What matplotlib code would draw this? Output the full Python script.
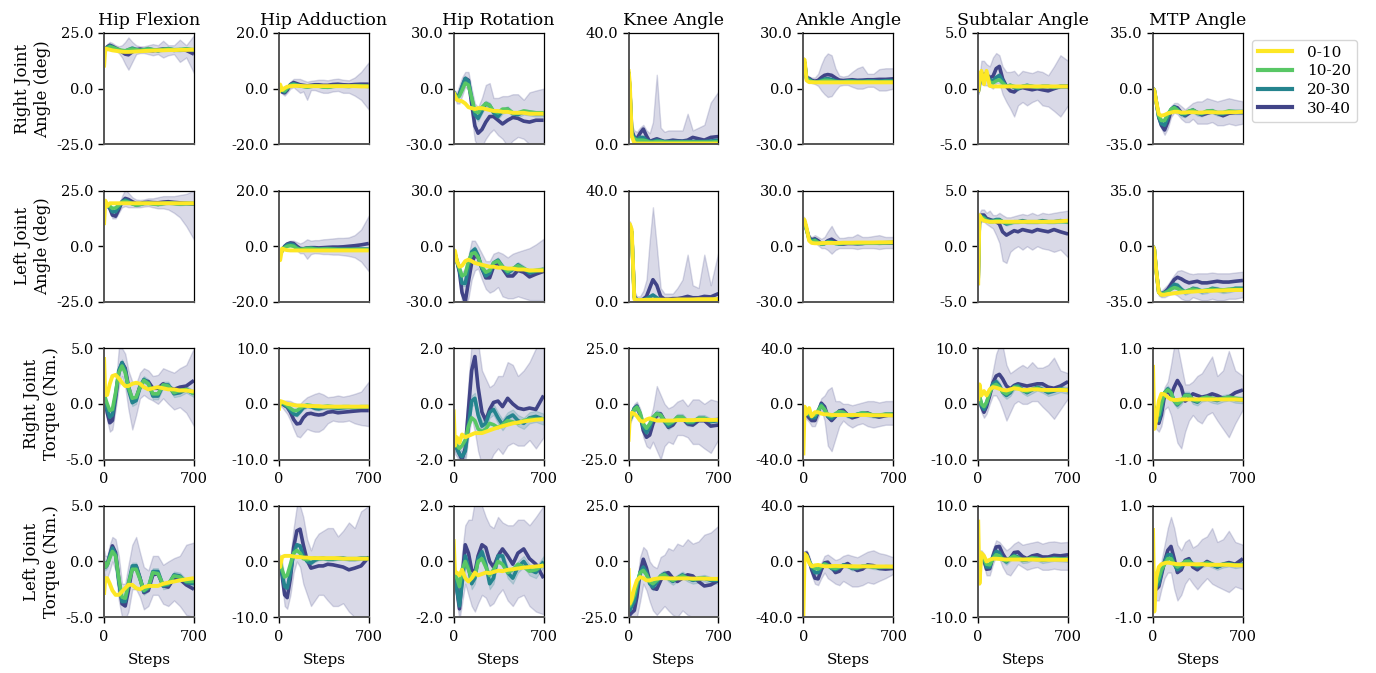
import matplotlib
matplotlib.use("Agg")
import matplotlib.pyplot as plt
from matplotlib.lines import Line2D

# ---------------- data ----------------
steps = [0, 10, 25, 45, 65, 90, 115, 140, 165, 190, 220, 250, 280, 310, 345, 380, 420, 460, 500, 545, 590, 640, 700]
joints = ["Hip Flexion", "Hip Adduction", "Hip Rotation", "Knee Angle", "Ankle Angle", "Subtalar Angle", "MTP Angle"]
row_labels = ["Right Joint\nAngle (deg)", "Left Joint\nAngle (deg)", "Right Joint\nTorque (Nm.)", "Left Joint\nTorque (Nm.)"]
groups = ["0-10", "10-20", "20-30", "30-40"]
y_limits = [
    [(-25, 25), (-20, 20), (-30, 30), (0, 40), (-30, 30), (-5, 5), (-35, 35)],
    [(-25, 25), (-20, 20), (-30, 30), (0, 40), (-30, 30), (-5, 5), (-35, 35)],
    [(-5, 5), (-10, 10), (-2, 2), (-25, 25), (-40, 40), (-10, 10), (-1, 1)],
    [(-5, 5), (-10, 10), (-2, 2), (-25, 25), (-40, 40), (-10, 10), (-1, 1)],
]
x_ticks = [0, 700]
# half-width of the 20-30 band per panel
spread_20 = [
    [0.6, 0.4, 1.5, 0.5, 0.6, 0.15, 1.5],
    [0.6, 0.4, 1.5, 0.5, 0.6, 0.15, 1.5],
    [0.3, 0.3, 0.2, 1.5, 1.5, 0.6, 0.06],
    [0.3, 0.3, 0.2, 1.5, 1.5, 0.5, 0.05],
]

# ---- Row 1: right joint angle ----
ra_hf_00 = [9.5, 18, 17.8, 17.5, 17.2, 17, 16.8, 16.6, 16.5, 16.5, 16.6, 16.7, 16.8, 16.9, 17, 17.1, 17.2, 17.2, 17.3, 17.3, 17.4, 17.4, 17.5]
ra_hf_10 = [17, 17.5, 18.2, 18.8, 18.5, 18, 17.5, 17.2, 17, 17.5, 17.8, 17.5, 17.2, 17.5, 17.8, 17.5, 17.3, 17.6, 17.8, 17.5, 17.6, 17.8, 17.5]
ra_hf_20 = [17, 17.5, 18.5, 19.2, 18.8, 18, 17.2, 16.8, 16.8, 17.5, 18.2, 17.6, 17, 17.4, 18, 17.5, 17, 17.6, 18, 17.4, 17.3, 17.8, 17.2]
ra_hf_30 = [17, 17.5, 18.8, 19.5, 19.0, 18.2, 17.5, 16.5, 15.5, 15.2, 16.5, 17.5, 17.8, 17.5, 17.2, 17.0, 17.5, 17.8, 17.5, 17.2, 17.5, 17.2, 15.5]
ra_hf_lo = [16, 16.5, 17.5, 18, 17.5, 17, 16, 14, 11, 8.5, 12, 15.5, 16, 16, 15.5, 15, 15.5, 14, 15, 15.5, 12, 14, 7]
ra_hf_hi = [18, 18.5, 20, 21, 20.5, 19.5, 19, 19.5, 21, 23, 21, 19.5, 19, 19, 19.5, 20, 19.5, 21.5, 19.5, 19.5, 22, 19.5, 24]

ra_ha_00 = [-1.5, 1.5, -0.5, 0.2, 0.7, 0.9, 1.0, 1.0, 1.0, 0.9, 0.9, 0.9, 0.9, 0.9, 0.9, 0.9, 0.9, 0.9, 0.9, 0.9, 0.9, 0.8, 0.8]
ra_ha_10 = [-1, 0.5, -0.5, -0.8, 0.2, 1.2, 1.5, 1.2, 1.0, 0.8, 0.6, 0.8, 1.0, 0.9, 0.6, 0.5, 0.8, 1.0, 0.9, 0.8, 1.0, 1.0, 0.8]
ra_ha_20 = [-1, 0.3, -0.8, -1.2, 0, 1.4, 1.8, 1.4, 1.1, 0.9, 0.7, 0.9, 1.1, 1.0, 0.7, 0.6, 0.9, 1.1, 1.0, 0.9, 1.1, 1.1, 0.9]
ra_ha_30 = [-1, 0, -1.2, -1.5, -0.5, 1.5, 2.2, 1.8, 1.4, 1.2, 1.0, 1.2, 1.4, 1.4, 1.2, 1.2, 1.5, 1.6, 1.4, 1.3, 1.5, 1.6, 1.6]
ra_ha_lo = [-1.5, -0.5, -1.8, -2.5, -1.5, 0, 0.5, -0.5, -1.5, -1, -4, -0.5, -0.5, -1, -1.5, -1.5, -1, -0.8, -1.5, -1.5, -2.5, -4, -7.5]
ra_ha_hi = [-0.5, 0.5, -0.5, -0.5, 0.5, 2.5, 3.5, 3.5, 3.5, 3.0, 2.5, 2.8, 3.0, 3.2, 3.2, 3.0, 3.4, 3.6, 3.2, 3.0, 4, 6, 9.5]

ra_hr_00 = [-2, -4, -6, -6.5, -6.8, -8, -10, -10.5, -11, -10.5, -10.5, -11, -11.5, -12, -12, -12.5, -12.5, -13, -13, -13, -13.5, -13.5, -13.5]
ra_hr_10 = [-2, -3, -5, -4, -1, 3, 2, -5, -12, -13, -10, -8, -9, -12, -13, -11, -11, -13, -13, -12, -12.5, -13, -13]
ra_hr_20 = [-2, -3, -5, -3, 1, 5.5, 4, -5, -14, -16, -12, -8, -9, -13, -15, -12, -11, -13.5, -14, -12.5, -13, -13.5, -13.5]
ra_hr_30 = [-2, -3, -5, -3, 1, 5.5, 4.5, -8, -20, -24, -22, -18, -15, -15, -17, -19, -17, -15.5, -16, -17.5, -18, -17, -17]
ra_hr_lo = [-3, -5, -8, -8, -4, 1, -1, -15, -28, -31, -31, -27, -24, -22, -25, -27, -31, -28, -26, -27, -30, -31, -31]
ra_hr_hi = [-1, -1, -2, 2, 6, 9, 9, 0, -8, -10, -5, 2, 3, -5, -5, -4, -4, -3, -3, -6, -2, -1, 0]

ra_kn_00 = [27, 22, 3, 0.5, 0.3, 0.3, 0.3, 0.3, 0.3, 0.3, 0.3, 0.3, 0.3, 0.3, 0.3, 0.3, 0.3, 0.3, 0.3, 0.3, 0.3, 0.3, 0.3]
ra_kn_10 = [26, 20, 3, 2, 1.5, 1.5, 1.5, 1.2, 0.8, 0.8, 1, 1, 0.8, 0.8, 0.8, 0.8, 0.8, 0.8, 0.8, 0.8, 0.8, 0.8, 1]
ra_kn_20 = [26, 20, 4, 2.5, 1.5, 2.5, 2.5, 1.5, 1, 1, 1.5, 1.2, 1, 1, 1, 1, 1, 1, 1, 1, 1, 1.2, 1.5]
ra_kn_30 = [26, 20, 5, 2.5, 2, 4, 5.5, 3, 1, 1.5, 2, 1.5, 1, 1.2, 1.5, 1.3, 1.2, 1.5, 2.5, 2, 1.5, 2.5, 2.8]
ra_kn_lo = [25, 18, 2, 0.5, 0.5, 1, 2, 0.5, 0, 0, 0, 0, 0, 0, 0, 0, 0, 0, 0, 0, 0, 0, 0]
ra_kn_hi = [28, 22, 7, 5, 4.5, 6, 7, 5, 4, 8, 25, 6, 4.5, 5, 5, 5, 5, 11, 5, 6, 7, 15, 19]

ra_an_00 = [16, 15.5, 4.5, 3.5, 3.5, 3.4, 3.4, 3.4, 3.4, 3.4, 3.4, 3.4, 3.4, 3.4, 3.4, 3.4, 3.4, 3.4, 3.4, 3.4, 3.4, 3.4, 3.4]
ra_an_10 = [15, 14, 5, 4.5, 3.8, 3.5, 3.5, 4, 4.5, 4.5, 4.2, 3.8, 3.6, 3.6, 3.8, 3.8, 3.6, 3.6, 3.8, 3.8, 3.6, 3.8, 3.8]
ra_an_20 = [15, 14, 5.5, 5, 4, 3.6, 3.8, 4.5, 5.2, 5.4, 5, 4.2, 3.8, 3.8, 4.2, 4.2, 4, 4, 4.2, 4.2, 4, 4.3, 4.3]
ra_an_30 = [15, 14, 6, 5.5, 4.5, 4, 4.5, 6, 7.2, 7.6, 7.2, 5.8, 4.6, 4.4, 4.6, 4.8, 4.5, 4.6, 4.8, 4.8, 5, 5, 5.3]
ra_an_lo = [14, 12, 4, 3.5, 3, 2.5, 1.5, -1, -3, -4.5, -4, -1, 1.5, 2, 2, 1, 0, 0, 1, 1, -1, -1, 0]
ra_an_hi = [17, 16, 7, 6.5, 6, 6, 8, 13, 17, 19, 18, 11, 7, 6.5, 7, 9, 11, 12, 8, 8, 10.5, 11, 11]

ra_st_00 = [-0.3, 0.8, 1.6, 0.4, 1.6, 0.25, 0.2, 0.2, 0.2, 0.2, 0.2, 0.2, 0.2, 0.2, 0.2, 0.2, 0.2, 0.2, 0.2, 0.2, 0.2, 0.2, 0.2]
ra_st_10 = [-0.3, 0.5, 1.2, 0.8, 1.0, 0.6, 0.5, 0.7, 0.8, 0.5, 0.2, 0.3, 0.2, 0.1, 0.2, 0.25, 0.2, 0.15, 0.2, 0.2, 0.15, 0.2, 0.2]
ra_st_20 = [-0.3, 0.5, 1.2, 1.0, 1.2, 0.8, 0.7, 1.0, 1.2, 0.7, 0.2, 0.3, 0.1, 0, 0.2, 0.3, 0.2, 0.1, 0.2, 0.2, 0.1, 0.2, 0.2]
ra_st_30 = [-0.3, 0.5, 1.2, 1.3, 1.3, 1.0, 1.1, 1.8, 2.0, 0.9, 0.2, -0.2, -0.3, 0, 0.1, 0, -0.1, 0, -0.1, -0.2, 0, 0.2, 0.2]
ra_st_lo = [-0.5, 0, 0.5, 0.3, 0.3, 0.2, 0, 0.5, 0.5, -0.5, -1.2, -1.8, -2.5, -1.5, -1.2, -1.5, -1.2, -1, -1.5, -1.6, -2, -2.5, -1.5]
ra_st_hi = [0, 1, 2.5, 2.5, 2.2, 2, 2.8, 3.2, 3.0, 2.0, 1.5, 1.5, 1.6, 1.2, 1.6, 1.5, 1.4, 1.6, 1.5, 1.2, 2, 3.0, 2.5]

ra_mt_00 = [0, -1, -8, -16, -17, -16.5, -15.5, -15, -14.5, -14.5, -15, -15, -14.8, -14.8, -15, -15, -14.8, -14.8, -15, -15, -14.8, -14.8, -14.5]
ra_mt_10 = [0, -1, -8, -17, -20, -20, -16, -13, -12, -13.5, -15.5, -15.5, -14, -13.5, -15, -15.5, -14, -14, -15, -15, -14, -14.5, -14.5]
ra_mt_20 = [0, -1, -8, -18, -22, -23, -18, -13, -11.5, -13, -16, -16.5, -14.5, -13.5, -15.5, -16, -14.5, -14, -15.5, -16, -14.5, -14.5, -14.5]
ra_mt_30 = [0, -1, -8, -18, -23, -26, -21, -14, -11.5, -12, -15, -17, -15.5, -13.5, -15, -16.5, -15.5, -14.5, -15.5, -17, -15.5, -15, -15]
ra_mt_lo = [-1, -2, -10, -20, -25, -29, -25, -18, -15, -16, -19, -21, -21, -19, -22, -22, -22, -21, -23, -23, -22, -23, -22]
ra_mt_hi = [1, 0, -6, -16, -20, -22, -17, -11, -9, -9, -11, -13, -11, -9, -8, -8, -6, -7, -8, -7, -6, -7, -8]

# ---- Row 2: left joint angle ----
la_hf_00 = [9.5, 20.5, 18, 19.3, 19.3, 19.3, 19.3, 19.3, 19.3, 19.3, 19.3, 19.3, 19.3, 19.3, 19.3, 19.3, 19.3, 19.3, 19.3, 19.3, 19.3, 19.3, 19.3]
la_hf_10 = [19, 19, 18.5, 18, 17, 17.2, 18.5, 19.8, 20.2, 19.8, 19, 18.5, 18.8, 19.2, 19.3, 19, 18.8, 19.2, 19.4, 19.2, 19, 19.2, 19.2]
la_hf_20 = [19, 19, 18.5, 17.5, 15.5, 15.5, 17.5, 20, 20.8, 20.2, 19.2, 18.5, 18.8, 19.3, 19.5, 19.2, 18.8, 19.2, 19.5, 19.3, 19, 19.2, 19.2]
la_hf_30 = [19, 19, 18.5, 17, 14, 13.5, 16.5, 20, 21.5, 21, 20, 19.2, 19.2, 19.6, 19.8, 19.6, 19.5, 19.8, 20, 19.7, 19.5, 19.3, 19]
la_hf_lo = [18, 18, 17.5, 16, 12.5, 12.5, 15, 17.5, 18, 17.5, 17.5, 17.5, 17.5, 17.8, 18, 17.5, 17, 17, 16.5, 15, 13, 9, 3]
la_hf_hi = [20, 20, 19.5, 18.5, 16, 15.5, 18, 22.5, 25.5, 24, 22, 21, 20.8, 21, 21.5, 21.5, 22, 22.5, 22.5, 22.5, 23, 23.5, 25]

la_ha_00 = [-1.5, -5, -0.8, -1.2, -1.4, -1.5, -1.5, -1.5, -1.5, -1.5, -1.5, -1.5, -1.5, -1.5, -1.5, -1.5, -1.5, -1.5, -1.5, -1.5, -1.5, -1.5, -1.5]
la_ha_10 = [-1.5, -3, -1.5, -0.5, 0, 0.2, 0, -0.8, -1.2, -1, -0.8, -0.8, -1, -1.1, -1, -1, -1.1, -1.2, -1.2, -1.2, -1.2, -1.2, -1.2]
la_ha_20 = [-1.5, -3, -1.5, -0.2, 0.5, 0.8, 0.5, -0.5, -1.1, -1, -0.7, -0.6, -0.8, -1, -0.9, -0.8, -0.9, -1, -1, -1, -1, -1, -1]
la_ha_30 = [-1.5, -3, -1.5, 0, 0.8, 1.2, 1.0, 0, -0.8, -0.9, -0.6, -0.5, -0.5, -0.6, -0.5, -0.4, -0.3, -0.3, -0.2, 0, 0.2, 0.5, 1.0]
la_ha_lo = [-2, -3.5, -2, -0.8, 0, 0.3, -0.3, -1.5, -2.5, -2.5, -4.5, -2.8, -2.5, -2.6, -2.8, -2.8, -3, -3, -3.2, -3.5, -4, -5.5, -9]
la_ha_hi = [-1, -2.5, -1, 0.8, 1.5, 2, 2, 1.5, 1, 1.5, 2.5, 2, 2.2, 2.2, 2.5, 2.6, 2.8, 3, 3, 3.2, 4, 6, 11]

la_hr_00 = [-2, -2.5, -8, -11, -10.5, -8, -7.2, -8, -9, -9.5, -10, -10.5, -11, -11, -11.5, -11.5, -12, -12, -12.5, -12.5, -13, -13, -13]
la_hr_10 = [-3, -4, -8, -12, -16, -15, -8, -4, -3.5, -6, -11, -14, -13, -9, -8, -11, -13.5, -12, -10.5, -12, -13.5, -13, -12.5]
la_hr_20 = [-3, -4, -8, -13, -20, -20, -11, -3, -1.5, -5, -12, -16, -14.5, -9, -7.5, -11, -14.5, -12.5, -10, -12, -14.5, -13.5, -12.5]
la_hr_30 = [-3, -4, -8, -14, -25, -30, -19, -9, -5, -6, -12, -17, -17, -11, -9, -12, -16, -16, -13, -14, -16.5, -15, -13.5]
la_hr_lo = [-4, -5, -10, -17, -30, -32, -28, -18, -13, -12, -18, -23, -25, -24, -22, -27, -28, -28, -27, -28, -29, -29, -29]
la_hr_hi = [-2, -3, -6, -10, -14, -12, -5, 3, 3, 0, -4, -8, -8, -4, -3, -4, -6, -4, -3, -2, -1, 1, 4]

la_kn_00 = [27, 28, 26, 1.0, 0.7, 0.7, 0.7, 0.8, 0.8, 0.8, 0.8, 0.8, 0.8, 0.8, 0.8, 0.9, 0.9, 0.9, 0.9, 1.0, 1.0, 1.0, 1.0]
la_kn_10 = [26, 27, 25, 1.5, 0.5, 0.4, 0.5, 0.6, 0.7, 0.8, 0.7, 0.6, 0.6, 0.6, 0.6, 0.6, 0.6, 0.6, 0.6, 0.6, 0.6, 0.6, 0.7]
la_kn_20 = [26, 27, 25, 1.8, 0.6, 0.5, 0.8, 1.2, 1.8, 2.5, 1.5, 0.8, 0.7, 0.7, 0.7, 0.8, 0.8, 0.8, 0.8, 0.8, 0.8, 0.8, 0.9]
la_kn_30 = [26, 27, 25, 2, 0.8, 0.6, 1, 2, 5, 8, 6, 2, 1, 1, 1.2, 1.2, 1.5, 2, 1.5, 1.5, 2, 1.8, 3]
la_kn_lo = [25, 26, 24, 0.5, 0, 0, 0, 0, 0, 0, 0, 0, 0, 0, 0, 0, 0, 0, 0, 0, 0, 0, 0]
la_kn_hi = [28, 29, 27, 4, 2, 2, 4, 8, 22, 34, 20, 5, 3, 3, 3, 5, 8, 17, 6, 5, 17, 6, 18]

la_an_00 = [15, 14, 10, 3, 1.8, 1.6, 1.6, 1.7, 1.8, 1.8, 1.8, 1.8, 1.8, 1.9, 1.9, 1.9, 2, 2, 2, 2, 2.1, 2.1, 2.2]
la_an_10 = [14, 13, 9, 3.5, 2.5, 3, 2, 1.2, 1.5, 2.2, 2, 1.5, 1.4, 1.6, 1.8, 1.7, 1.6, 1.7, 1.8, 1.8, 1.8, 1.9, 2]
la_an_20 = [14, 13, 9, 4, 3, 3.5, 2.2, 1.2, 1.5, 2.5, 2.5, 1.6, 1.3, 1.5, 1.8, 1.7, 1.5, 1.6, 1.8, 1.8, 1.8, 1.9, 2]
la_an_30 = [14, 13, 9, 4.5, 3.5, 4, 3, 1.5, 1.5, 3, 3.8, 2.5, 1.2, 1.2, 1.5, 1.5, 1.4, 1.5, 1.8, 1.8, 1.6, 1.7, 1.8]
la_an_lo = [13, 12, 8, 3, 2, 2, 0.5, -1, -1, -2, -4, -2, -1, -1, -1, -1, -1.5, -1, -1, -1, -1.5, -1, -1]
la_an_hi = [16, 15, 11, 6, 5, 6, 5, 4, 5, 8, 11, 7, 4.5, 4.5, 5, 5, 6.5, 5, 5, 5.5, 6, 5, 5]

la_st_00 = [-3.5, 2.8, 2.5, 2.3, 2.25, 2.2, 2.2, 2.2, 2.2, 2.2, 2.2, 2.2, 2.2, 2.2, 2.2, 2.2, 2.2, 2.2, 2.2, 2.2, 2.2, 2.25, 2.3]
la_st_10 = [-3, 2.5, 2.6, 2.5, 2.3, 2.2, 2.2, 2.3, 2.3, 2.2, 2.1, 2.1, 2.2, 2.2, 2.2, 2.2, 2.2, 2.2, 2.2, 2.2, 2.2, 2.2, 2.2]
la_st_20 = [-3, 2.5, 2.7, 2.6, 2.4, 2.3, 2.3, 2.4, 2.4, 2.2, 2.0, 2.1, 2.2, 2.2, 2.3, 2.2, 2.2, 2.2, 2.3, 2.2, 2.2, 2.3, 2.2]
la_st_30 = [-3, 2.5, 2.8, 2.8, 2.5, 2.4, 2.3, 2.2, 2.0, 1.3, 1.0, 1.2, 1.4, 1.3, 1.5, 1.4, 1.3, 1.5, 1.4, 1.3, 1.5, 1.3, 1.1]
la_st_lo = [-3.5, 2, 2.2, 2.2, 2, 1.8, 1.6, 1, 0.3, -1.3, -1.5, -0.5, -0.2, 0, -0.3, 0, -0.3, 0, -0.2, -0.3, -0.5, -0.3, -1]
la_st_hi = [-2.5, 3, 3.3, 3.3, 3, 3.2, 2.8, 2.8, 3.0, 2.8, 2.6, 2.6, 2.7, 2.8, 2.9, 2.8, 3.0, 2.8, 3.0, 2.9, 3.0, 3.1, 3.2]

la_mt_00 = [0, -2, -15, -29, -30.5, -30.5, -30, -29.8, -29.5, -29.3, -29, -28.8, -28.6, -28.5, -28.3, -28.2, -28, -28, -27.8, -27.8, -27.6, -27.5, -27.5]
la_mt_10 = [0, -2, -15, -29, -30, -29.5, -28.5, -27, -26, -26.5, -28, -28.5, -27.5, -27, -27.5, -28, -27.5, -27, -27.5, -27.5, -27, -27, -27]
la_mt_20 = [0, -2, -15, -29, -30, -29, -28, -26, -24, -24.5, -27, -29, -28, -26.5, -27, -28.5, -28, -26.5, -27, -28, -27.5, -26.5, -26.5]
la_mt_30 = [0, -2, -15, -29, -30, -29, -27, -24, -21, -19.5, -20.5, -22, -23, -22.5, -22, -23, -23, -22.5, -22, -22.5, -22.5, -22, -21.5]
la_mt_lo = [-1, -3, -17, -31, -32, -32, -31, -30, -30, -31, -33, -34, -34, -32, -33, -34, -34, -33, -34, -34, -33, -33, -32]
la_mt_hi = [1, -1, -13, -27, -28, -26, -24, -21, -18, -15.5, -15, -16, -17, -17.5, -17, -17, -17, -16.5, -17, -17, -17, -16.5, -16]

# ---- Row 3: right joint torque ----
rt_hf_00 = [4.2, 0.8, 0.8, 1.8, 2.5, 2.6, 2.3, 1.9, 1.6, 1.6, 1.8, 1.9, 1.8, 1.5, 1.3, 1.4, 1.5, 1.4, 1.3, 1.3, 1.2, 1.2, 1.1]
rt_hf_10 = [1, 0.5, 0, -0.6, -0.5, 1.0, 2.8, 3.4, 2.8, 1.5, 0.5, 0.6, 1.5, 2.1, 1.8, 0.9, 0.9, 1.7, 1.6, 1.0, 1.2, 1.3, 0.9]
rt_hf_20 = [1, 0.3, -0.5, -1.2, -1.0, 0.8, 3.0, 3.7, 3.0, 1.3, 0.1, 0.3, 1.5, 2.2, 1.9, 0.7, 0.7, 1.7, 1.7, 0.9, 1.0, 1.3, 0.9]
rt_hf_30 = [1, 0.2, -0.8, -1.7, -1.5, 0.5, 2.8, 3.7, 3.2, 1.6, 0.3, 0.5, 1.6, 2.1, 2.0, 1.4, 1.4, 1.8, 1.5, 1.3, 1.5, 1.6, 2.1]
rt_hf_lo = [0, -0.5, -1.5, -2.5, -2.3, -0.5, 1.5, 2.5, 1.5, -0.5, -2.3, -1, 0.5, 0.8, 0.5, 0.3, 0, 0.5, 0, -0.5, -0.3, -0.8, -2]
rt_hf_hi = [2, 1, 0, -0.8, -0.5, 1.5, 5, 5, 4.5, 3, 2, 1.8, 2.8, 3.2, 3, 2.5, 2.6, 3.2, 3, 2.8, 3.2, 3.5, 5]

rt_ha_00 = [-1.2, 0.5, 0.4, 0.2, 0, -0.1, -0.2, -0.3, -0.3, -0.3, -0.4, -0.4, -0.4, -0.4, -0.5, -0.5, -0.5, -0.5, -0.5, -0.5, -0.5, -0.5, -0.5]
rt_ha_10 = [-0.5, 0.3, 0.2, 0, -0.3, -0.8, -1.2, -1.2, -0.8, -0.4, -0.2, -0.3, -0.5, -0.6, -0.5, -0.4, -0.5, -0.6, -0.5, -0.5, -0.6, -0.5, -0.5]
rt_ha_20 = [-0.5, 0.3, 0.1, -0.2, -0.5, -1.2, -1.8, -2.0, -1.4, -0.7, -0.4, -0.5, -0.8, -0.9, -0.7, -0.6, -0.7, -0.8, -0.7, -0.6, -0.7, -0.6, -0.6]
rt_ha_30 = [-0.5, 0.2, 0, -0.3, -0.6, -1.5, -2.8, -3.6, -3.5, -2.5, -1.8, -1.7, -1.9, -2.0, -1.9, -1.5, -1.4, -1.6, -1.5, -1.4, -1.3, -1.2, -1.2]
rt_ha_lo = [-1, -0.3, -0.6, -1.2, -1.8, -3, -4.5, -5.8, -6, -5.3, -4.5, -4.8, -5, -5, -4.5, -3.5, -3, -3.2, -3.2, -3, -3.5, -3.8, -4]
rt_ha_hi = [0, 0.7, 0.6, 0.6, 0.6, 0.5, 0.2, 0, 0, 0.6, 1.2, 1.5, 1.8, 2, 1.7, 1.2, 1.3, 1.5, 1.3, 1.5, 1.8, 2.2, 4]

rt_hr_00 = [-0.2, -1.5, -1.2, -1.4, -1.1, -1.2, -1.15, -1.1, -1.05, -1.05, -1.05, -1.0, -0.95, -0.9, -0.85, -0.8, -0.75, -0.7, -0.67, -0.63, -0.6, -0.57, -0.55]
rt_hr_10 = [-1.3, -1.4, -1.5, -1.6, -1.5, -1.3, -0.8, -0.5, -0.6, -0.9, -1.0, -0.9, -0.7, -0.75, -0.85, -0.75, -0.6, -0.65, -0.7, -0.6, -0.55, -0.55, -0.55]
rt_hr_20 = [-1.3, -1.5, -1.6, -1.8, -1.9, -1.7, -0.8, 0.1, 0.2, -0.4, -0.8, -0.7, -0.3, -0.2, -0.5, -0.75, -0.5, -0.4, -0.6, -0.7, -0.5, -0.45, -0.55]
rt_hr_30 = [-1.3, -1.5, -1.6, -1.8, -2.0, -1.6, -0.2, 1.2, 1.7, 0.6, -0.3, -0.6, -0.2, 0.05, 0.1, -0.1, 0.2, 0.0, -0.15, -0.2, -0.15, -0.2, 0.3]
rt_hr_lo = [-1.6, -1.8, -1.9, -2.1, -2.3, -2.1, -1.2, -0.5, -1.0, -1.7, -2.2, -2.2, -2.1, -1.8, -1.6, -1.8, -1.5, -1.4, -1.5, -1.5, -1.3, -1.6, -1.2]
rt_hr_hi = [-1.0, -1.2, -1.3, -1.5, -1.6, -1.0, 0.8, 2.2, 2.4, 2.2, 1.2, 0.9, 0.6, 0.7, 1.0, 1.0, 1.5, 1.4, 1.0, 1.2, 1.5, 2.0, 2.2]

rt_kn_00 = [-17, -6, -4, -4.5, -5.5, -7.5, -8, -7, -6.5, -7, -7.5, -7.5, -7.5, -7.5, -7.5, -7.3, -7.3, -7.3, -7.3, -7.2, -7.2, -7.2, -7.2]
rt_kn_10 = [-8, -7, -5, -2.5, -1.5, -4, -9, -11, -9, -6, -4.5, -5, -7.5, -9, -8, -6, -6, -8, -8, -6.5, -6.5, -7.5, -7]
rt_kn_20 = [-8, -7, -5, -2, -1.2, -4.5, -10.5, -13, -10.5, -6.5, -4.3, -5, -8, -10, -8.5, -6, -6, -8.5, -8.5, -6.5, -6.5, -8, -7.5]
rt_kn_30 = [-8, -7, -5, -2, -1.0, -5, -12, -15, -14, -9, -5, -4.5, -7.5, -10.5, -9.5, -6.5, -6.5, -9, -9.5, -7.5, -7.5, -10, -9.5]
rt_kn_lo = [-10, -9, -7, -4, -3, -7, -15, -19, -20, -17, -21, -25, -19, -17, -18, -14, -14, -15, -18, -18, -20, -22, -16]
rt_kn_hi = [-6, -5, -3, 0, 1, -2, -8, -10, -7, -2, 8, 4, 0, -2, -1, 1, 2, -1, 2, 2, 0, 2, 1]

rt_an_00 = [-37, -2, -7, -3, -9, -6, -6, -7, -7.5, -7.5, -8, -8, -8, -8, -8, -8, -8, -8, -8, -8.2, -8.2, -8.2, -8.3]
rt_an_10 = [-10, -8, -7, -7, -8, -8, -5, -1.5, -4, -8, -9, -7, -5.5, -6, -8, -8.5, -7.5, -6.5, -7, -8, -8, -7.5, -7.5]
rt_an_20 = [-10, -8, -7, -8, -10, -10, -5, -0.5, -4, -9, -10.5, -8, -5.5, -6, -8.5, -9, -7.5, -6.5, -7.5, -8.5, -8.5, -7.5, -7.5]
rt_an_30 = [-10, -8, -8, -10, -12, -12, -6, 0.5, -2, -9, -12, -9, -5, -4.5, -8, -10, -9, -7, -6.5, -8.5, -9.5, -8.5, -7.5]
rt_an_lo = [-12, -10, -11, -13, -16, -16, -10, -4, -12, -30, -34, -25, -16, -12, -15, -17, -15, -14, -16, -17, -16, -15, -15]
rt_an_hi = [-8, -6, -5, -7, -8, -8, -2, 4, 6, 10, 12, 2, 2, 0, 0, -1, 0, 1, 2, 2, 1, 2, 2]

rt_st_00 = [0.5, 3.5, 1.5, 2.3, 1.5, 2.6, 3.0, 2.9, 2.7, 2.5, 2.4, 2.6, 2.8, 2.7, 2.5, 2.5, 2.6, 2.6, 2.5, 2.5, 2.5, 2.5, 2.45]
rt_st_10 = [1, 1.5, 0, -0.5, 0.3, 2.0, 3.2, 3.5, 3.0, 2.2, 1.8, 2.3, 3.0, 3.0, 2.4, 2.2, 2.6, 2.8, 2.5, 2.3, 2.5, 2.6, 2.4]
rt_st_20 = [1, 1.5, -0.3, -1.0, 0, 2.2, 3.6, 4.0, 3.3, 2.1, 1.5, 2.0, 3.1, 3.3, 2.5, 2.0, 2.5, 3.0, 2.6, 2.0, 2.3, 2.7, 2.4]
rt_st_30 = [1, 1.2, -0.5, -1.5, -0.5, 1.5, 3.8, 5.0, 5.3, 4.5, 3.2, 2.7, 3.3, 3.6, 3.4, 3.2, 3.4, 3.6, 3.6, 3.0, 2.8, 3.2, 4.0]
rt_st_lo = [0, 0, -1.5, -2.5, -1.8, 0, 1.5, 1.5, 0.5, -1, -3, -1.5, 0, 0.5, 0, 0, 0.5, 0.5, -0.5, -1.5, -2.7, -1, 1]
rt_st_hi = [2, 2.5, 0.5, -0.5, 0.8, 3, 6, 9, 10.5, 10.5, 7, 5.5, 6, 6.5, 7, 6.5, 7.5, 6.5, 6.5, 7, 8.3, 6, 5.5]

rt_mt_00 = [0.7, -0.45, -0.3, 0.05, 0.18, 0.17, 0.12, 0.08, 0.07, 0.07, 0.08, 0.08, 0.08, 0.08, 0.08, 0.08, 0.08, 0.08, 0.08, 0.08, 0.08, 0.08, 0.07]
rt_mt_10 = [0, -0.1, -0.2, -0.2, 0.0, 0.2, 0.25, 0.2, 0.05, 0.0, 0.05, 0.15, 0.15, 0.08, 0.05, 0.1, 0.12, 0.1, 0.08, 0.1, 0.12, 0.1, 0.08]
rt_mt_20 = [0, -0.1, -0.25, -0.3, -0.1, 0.2, 0.27, 0.2, 0.05, -0.02, 0.05, 0.16, 0.16, 0.06, 0.03, 0.1, 0.12, 0.08, 0.06, 0.1, 0.12, 0.08, 0.07]
rt_mt_30 = [0, -0.15, -0.3, -0.35, -0.2, 0.15, 0.25, 0.15, 0.3, 0.42, 0.3, 0.05, 0.1, 0.18, 0.15, 0.12, 0.14, 0.18, 0.15, 0.1, 0.12, 0.2, 0.25]
rt_mt_lo = [-0.1, -0.25, -0.45, -0.5, -0.4, -0.1, -0.05, -0.2, -0.45, -0.7, -0.8, -0.5, -0.3, -0.2, -0.3, -0.35, -0.2, -0.15, -0.3, -0.45, -0.6, -0.35, -0.1]
rt_mt_hi = [0.1, -0.05, -0.15, -0.2, 0, 0.3, 0.4, 0.7, 1.05, 1.05, 0.7, 0.35, 0.35, 0.4, 0.5, 0.55, 0.7, 0.85, 0.5, 0.6, 0.95, 0.6, 0.5]

# ---- Row 4: left joint torque ----
lt_hf_00 = [-3, -1.5, -1.5, -2.0, -2.6, -3.0, -3.0, -2.7, -2.4, -2.1, -2.1, -2.4, -2.5, -2.3, -2.2, -2.2, -2.2, -2.0, -1.9, -1.8, -1.7, -1.6, -1.5]
lt_hf_10 = [0, -0.5, -0.3, 0.3, 0.9, 0.5, -1.5, -3.2, -3.3, -2.0, -0.7, -0.7, -1.6, -2.6, -2.3, -1.0, -1.1, -2.1, -2.0, -1.3, -1.4, -1.8, -1.8]
lt_hf_20 = [0, -0.5, -0.3, 0.5, 1.2, 0.6, -1.8, -3.6, -3.6, -2.0, -0.4, -0.4, -1.5, -2.7, -2.4, -0.9, -0.9, -2.2, -2.1, -1.2, -1.3, -1.9, -2.0]
lt_hf_30 = [0, -0.5, -0.3, 0.6, 1.4, 0.8, -1.6, -3.8, -4.0, -2.6, -0.6, -0.4, -1.5, -2.8, -2.6, -1.2, -1.1, -2.2, -2.3, -1.5, -1.6, -2.1, -2.5]
lt_hf_lo = [-1, -1.5, -1.5, -0.8, 0, -0.8, -3.5, -5, -5.2, -4.5, -2.5, -2.5, -3.2, -4.3, -4, -3, -3, -3.8, -4, -3.5, -4, -4.8, -5]
lt_hf_hi = [1, 0.5, 0.5, 1.5, 2.2, 2, 0.5, -2, -2, -0.3, 1.5, 2.2, 0.8, -0.5, -0.8, 0.5, 0.5, -0.3, 0, 0.3, 0.5, 1.5, 1.7]

lt_ha_00 = [0.8, -1.0, 0.8, 1.0, 1.0, 1.0, 0.9, 0.8, 0.8, 0.7, 0.7, 0.6, 0.6, 0.6, 0.6, 0.6, 0.6, 0.6, 0.5, 0.5, 0.5, 0.5, 0.5]
lt_ha_10 = [0.5, 0, -1.5, -2.8, -2.5, -0.5, 1.5, 2.0, 1.5, 0.5, 0.3, 0.5, 0.6, 0.5, 0.5, 0.5, 0.5, 0.5, 0.5, 0.5, 0.5, 0.5, 0.5]
lt_ha_20 = [0.5, 0, -2, -4.5, -4.8, -2, 1.5, 3.0, 2.8, 1.0, 0, -0.3, 0.2, 0.5, 0.6, 0.4, 0.4, 0.6, 0.6, 0.4, 0.4, 0.6, 0.6]
lt_ha_30 = [0.5, 0, -2.5, -6, -6.5, -3, 2.5, 5.5, 5.8, 3.0, 0.2, -1.2, -1.0, -0.8, -0.8, -0.5, -0.6, -0.8, -1.0, -1.5, -1.2, -0.8, 0.8]
lt_ha_lo = [-0.5, -1, -4, -8, -8.5, -6, -2, 0, -1, -4, -6, -8, -7, -6, -6, -7, -8, -8, -7.5, -9, -10, -10, -10]
lt_ha_hi = [1.5, 1, 0, -3, -3, 1, 6, 10, 10, 8, 4, 2, 4, 5, 5.5, 6, 6, 4.5, 5.5, 7, 6, 9, 10]

lt_hr_00 = [0.8, -0.4, -0.4, -0.5, -0.3, -0.6, -0.72, -0.6, -0.4, -0.5, -0.45, -0.4, -0.42, -0.38, -0.33, -0.35, -0.3, -0.28, -0.25, -0.22, -0.2, -0.18, -0.15]
lt_hr_10 = [-0.4, -0.5, -0.6, -0.9, -0.3, 0.0, -0.3, -0.6, -0.5, 0, 0.1, -0.2, -0.5, -0.3, 0, -0.1, -0.4, -0.3, -0.1, -0.2, -0.35, -0.3, -0.1]
lt_hr_20 = [-0.4, -0.6, -1.0, -1.6, -0.8, 0.2, -0.2, -0.8, -0.6, 0.1, 0.35, -0.1, -0.8, -0.6, 0.2, 0.2, -0.4, -0.6, -0.2, 0.0, -0.3, -0.4, 0.0]
lt_hr_30 = [-0.4, -0.6, -1.0, -1.7, -0.6, 0.6, 0.3, -0.3, -0.4, 0.2, 0.6, 0.5, 0.0, -0.2, 0.2, 0.45, 0.2, -0.1, 0.3, 0.45, 0.1, -0.1, -0.6]
lt_hr_lo = [-0.7, -1, -1.5, -2.1, -1.5, -0.8, -1.2, -1.6, -1.8, -1.5, -1.2, -1.3, -1.6, -1.5, -1.2, -1.0, -1.4, -1.6, -1.3, -1.2, -1.6, -1.8, -1.9]
lt_hr_hi = [-0.1, -0.2, -0.5, -0.9, 0.3, 1.3, 1.5, 1.5, 2.2, 2.1, 2.0, 1.6, 1.3, 1.2, 1.6, 1.4, 1.3, 1.3, 1.5, 1.5, 1.3, 1.6, 2.0]

lt_kn_00 = [-3, -19, -17, -12, -8.5, -7, -7.5, -8.5, -8.5, -8, -7.7, -7.5, -7.5, -7.6, -7.6, -7.6, -7.6, -7.6, -7.7, -7.7, -7.7, -7.8, -7.8]
lt_kn_10 = [-20, -20, -18, -15, -10, -5, -4, -6, -9, -10, -8.5, -6.5, -6, -7.5, -8.5, -7.5, -6.5, -7.5, -8, -7.5, -7.5, -8, -8]
lt_kn_20 = [-22, -22, -20, -18, -12, -5, -2.5, -5, -10, -11.5, -9.5, -6.5, -5.5, -7.5, -9, -7.5, -6, -7.5, -8.5, -8, -7.5, -8.5, -8.5]
lt_kn_30 = [-24, -24, -23, -22, -16, -5, 1, -3, -9, -12, -12.5, -8.5, -5.5, -5, -7.5, -9, -7.5, -6, -6.5, -9, -11, -10.5, -8.5]
lt_kn_lo = [-25, -25, -25, -25, -25, -18, -10, -13, -18, -22, -24, -22, -20, -22, -24, -25, -22, -24, -25, -25, -25, -25, -25]
lt_kn_hi = [-20, -20, -19, -17, -10, 2, 6.5, 5, 0, -2, -3, 2, 3, 6, 5, 8, 7, 10, 8, 9, 12, 13, 16]

lt_an_00 = [-40, 5.5, 4, -1, -3.5, -2.8, -2.5, -3, -3.5, -3.5, -3.3, -3.2, -3.3, -3.4, -3.4, -3.4, -3.5, -3.5, -3.5, -3.5, -3.6, -3.6, -3.7]
lt_an_10 = [5, 5, 4, 0, -3, -5, -5.5, -3.5, -2, -3, -4.5, -5, -4, -3, -3.5, -4.5, -4.5, -3.5, -3.5, -4, -4, -3.8, -3.8]
lt_an_20 = [5, 5, 4.5, 0, -4, -8, -8, -4, -1.5, -2.5, -5, -6, -4.5, -2.5, -3, -5, -5, -3.5, -3, -4, -4.5, -4, -4]
lt_an_30 = [5, 5.5, 6, 1, -6, -12, -12.5, -6, -1, -0.5, -4, -8, -7, -3, -1.5, -4, -6.5, -5.5, -2.5, -3, -5, -5.5, -5]
lt_an_lo = [3, 3.5, 4, -2, -10, -16, -17, -12, -8, -12, -14, -16, -17, -14, -16, -18, -18, -17, -15, -16, -14, -12, -9]
lt_an_hi = [7, 7.5, 8, 4, -2, -7, -7, -1, 4, 5, 3, 1, 2, 4, 5, 4, 3, 5, 7, 8, 6, 5, 3]

lt_st_00 = [7.5, -4, 1.5, 1.0, 0.0, 0.3, 0.5, 0.5, 0.45, 0.4, 0.35, 0.35, 0.35, 0.35, 0.35, 0.35, 0.35, 0.3, 0.3, 0.3, 0.3, 0.3, 0.3]
lt_st_10 = [1, 1, 1, 0.5, -0.5, -0.6, 0.5, 1.2, 1.0, 0.3, 0.1, 0.6, 0.9, 0.6, 0.3, 0.4, 0.6, 0.5, 0.3, 0.4, 0.5, 0.4, 0.4]
lt_st_20 = [1, 1, 1, 0.3, -1.0, -1.0, 0.8, 1.8, 1.6, 0.5, -0.1, 0.6, 1.1, 0.8, 0.2, 0.3, 0.7, 0.6, 0.2, 0.4, 0.6, 0.5, 0.4]
lt_st_30 = [1, 1, 1, 0.3, -1.4, -1.3, 1.0, 2.6, 2.7, 1.4, 0.3, 0.6, 1.6, 1.7, 0.9, 0.5, 1.0, 1.2, 0.8, 0.8, 1.1, 1.0, 1.2]
lt_st_lo = [0, 0, 0, -0.8, -2.5, -2.5, -0.5, 1, 0.5, -1, -2.2, -2.5, -1.5, -0.5, -1, -1.5, -1.2, -1, -1.5, -1.5, -1.3, -1.5, -1.5]
lt_st_hi = [2, 2, 2, 1.4, -0.3, 0, 2.3, 3.8, 3.5, 2.8, 2, 2.5, 3.2, 3.6, 3, 3.2, 3.4, 3.6, 3.2, 3.5, 3.6, 3.4, 3.5]

lt_mt_00 = [0.6, -0.9, -0.3, -0.1, -0.05, -0.03, -0.02, -0.03, -0.04, -0.05, -0.05, -0.05, -0.05, -0.05, -0.05, -0.05, -0.06, -0.06, -0.06, -0.06, -0.06, -0.07, -0.07]
lt_mt_10 = [-0.4, -0.4, -0.4, -0.3, -0.15, -0.05, 0.05, 0.05, -0.05, -0.1, -0.05, 0, 0, -0.05, -0.07, -0.05, -0.03, -0.05, -0.07, -0.05, -0.05, -0.06, -0.06]
lt_mt_20 = [-0.4, -0.4, -0.45, -0.4, -0.2, 0, 0.12, 0.12, -0.05, -0.15, -0.1, 0.0, 0.02, -0.05, -0.1, -0.06, -0.02, -0.06, -0.1, -0.06, -0.04, -0.07, -0.05]
lt_mt_30 = [-0.4, -0.4, -0.5, -0.45, -0.25, 0, 0.2, 0.27, 0.05, -0.2, -0.15, 0.02, 0.05, -0.1, -0.15, -0.08, 0, -0.05, -0.1, -0.05, -0.02, -0.05, 0.05]
lt_mt_lo = [-0.6, -0.6, -0.7, -0.7, -0.5, -0.3, -0.2, -0.2, -0.5, -0.7, -0.6, -0.4, -0.3, -0.4, -0.5, -0.4, -0.3, -0.4, -0.45, -0.5, -0.55, -0.45, -0.5]
lt_mt_hi = [-0.2, -0.2, -0.3, -0.2, 0, 0.3, 0.6, 0.8, 0.6, 0.3, 0.2, 0.35, 0.4, 0.25, 0.3, 0.4, 0.45, 0.6, 0.35, 0.4, 0.55, 0.35, 0.3]

panels = [
    [(ra_hf_00, ra_hf_10, ra_hf_20, ra_hf_30, ra_hf_lo, ra_hf_hi),
     (ra_ha_00, ra_ha_10, ra_ha_20, ra_ha_30, ra_ha_lo, ra_ha_hi),
     (ra_hr_00, ra_hr_10, ra_hr_20, ra_hr_30, ra_hr_lo, ra_hr_hi),
     (ra_kn_00, ra_kn_10, ra_kn_20, ra_kn_30, ra_kn_lo, ra_kn_hi),
     (ra_an_00, ra_an_10, ra_an_20, ra_an_30, ra_an_lo, ra_an_hi),
     (ra_st_00, ra_st_10, ra_st_20, ra_st_30, ra_st_lo, ra_st_hi),
     (ra_mt_00, ra_mt_10, ra_mt_20, ra_mt_30, ra_mt_lo, ra_mt_hi)],
    [(la_hf_00, la_hf_10, la_hf_20, la_hf_30, la_hf_lo, la_hf_hi),
     (la_ha_00, la_ha_10, la_ha_20, la_ha_30, la_ha_lo, la_ha_hi),
     (la_hr_00, la_hr_10, la_hr_20, la_hr_30, la_hr_lo, la_hr_hi),
     (la_kn_00, la_kn_10, la_kn_20, la_kn_30, la_kn_lo, la_kn_hi),
     (la_an_00, la_an_10, la_an_20, la_an_30, la_an_lo, la_an_hi),
     (la_st_00, la_st_10, la_st_20, la_st_30, la_st_lo, la_st_hi),
     (la_mt_00, la_mt_10, la_mt_20, la_mt_30, la_mt_lo, la_mt_hi)],
    [(rt_hf_00, rt_hf_10, rt_hf_20, rt_hf_30, rt_hf_lo, rt_hf_hi),
     (rt_ha_00, rt_ha_10, rt_ha_20, rt_ha_30, rt_ha_lo, rt_ha_hi),
     (rt_hr_00, rt_hr_10, rt_hr_20, rt_hr_30, rt_hr_lo, rt_hr_hi),
     (rt_kn_00, rt_kn_10, rt_kn_20, rt_kn_30, rt_kn_lo, rt_kn_hi),
     (rt_an_00, rt_an_10, rt_an_20, rt_an_30, rt_an_lo, rt_an_hi),
     (rt_st_00, rt_st_10, rt_st_20, rt_st_30, rt_st_lo, rt_st_hi),
     (rt_mt_00, rt_mt_10, rt_mt_20, rt_mt_30, rt_mt_lo, rt_mt_hi)],
    [(lt_hf_00, lt_hf_10, lt_hf_20, lt_hf_30, lt_hf_lo, lt_hf_hi),
     (lt_ha_00, lt_ha_10, lt_ha_20, lt_ha_30, lt_ha_lo, lt_ha_hi),
     (lt_hr_00, lt_hr_10, lt_hr_20, lt_hr_30, lt_hr_lo, lt_hr_hi),
     (lt_kn_00, lt_kn_10, lt_kn_20, lt_kn_30, lt_kn_lo, lt_kn_hi),
     (lt_an_00, lt_an_10, lt_an_20, lt_an_30, lt_an_lo, lt_an_hi),
     (lt_st_00, lt_st_10, lt_st_20, lt_st_30, lt_st_lo, lt_st_hi),
     (lt_mt_00, lt_mt_10, lt_mt_20, lt_mt_30, lt_mt_lo, lt_mt_hi)],
]

# ---------------- style ----------------
plt.rcParams["font.family"] = ["DejaVu Serif"]
cmap = plt.get_cmap("viridis")
colors = [cmap(1.0), cmap(0.74), cmap(0.45), cmap(0.2)]  # 0-10, 10-20, 20-30, 30-40

fig, axes = plt.subplots(4, 7, figsize=(13.76, 6.73), dpi=100)
fig.subplots_adjust(left=0.0756, right=0.9033, top=0.951, bottom=0.083, wspace=0.944, hspace=0.415)

for r in range(4):
    for c in range(7):
        ax = axes[r][c]
        s00, s10, s20, s30, lo, hi = panels[r][c]
        sp = spread_20[r][c]
        ax.fill_between(steps, lo, hi, color=colors[3], alpha=0.2, linewidth=1.0)
        ax.fill_between(steps, [v - sp for v in s20], [v + sp for v in s20],
                        color=colors[2], alpha=0.2, linewidth=0.8)
        ax.plot(steps, s30, color=colors[3], lw=2.6, solid_capstyle="butt")
        ax.plot(steps, s20, color=colors[2], lw=2.6, solid_capstyle="butt")
        ax.plot(steps, s10, color=colors[1], lw=2.6, solid_capstyle="butt")
        ax.plot(steps, s00, color=colors[0], lw=2.8, solid_capstyle="butt")

        ymin, ymax = y_limits[r][c]
        ax.set_ylim(ymin, ymax)
        ax.set_xlim(0, 700)
        yt = sorted(set([ymin, 0, ymax]))
        ax.set_yticks(yt)
        ax.set_yticklabels([f"{v:.1f}" for v in yt])
        ax.tick_params(axis="y", labelsize=10.5, length=4, width=1)
        if r >= 2:
            ax.set_xticks(x_ticks)
            ax.set_xticklabels([str(v) for v in x_ticks])
            ax.tick_params(axis="x", labelsize=10.5, length=4, width=1, pad=5)
        else:
            ax.set_xticks([])
        if r == 3:
            ax.set_xlabel("Steps", fontsize=11, labelpad=7)
        if r == 0:
            ax.set_title(joints[c], fontsize=12.5, pad=6)
        if c == 0:
            ax.set_ylabel(row_labels[r], fontsize=12, labelpad=4)
        for side in ("left", "bottom"):
            ax.spines[side].set_color("#555555")
            ax.spines[side].set_linewidth(1.4)
        for side in ("top", "right"):
            ax.spines[side].set_color("black")
            ax.spines[side].set_linewidth(0.9)

handles = [Line2D([0], [0], color=colors[i], lw=3) for i in range(4)]
axes[0][6].legend(handles, groups, loc="upper left", bbox_to_anchor=(1.1, 0.94),
                  borderaxespad=0, fontsize=11, frameon=True, handlelength=2.2,
                  labelspacing=0.3, handletextpad=1.0)

fig.savefig("out.png", dpi=100)
